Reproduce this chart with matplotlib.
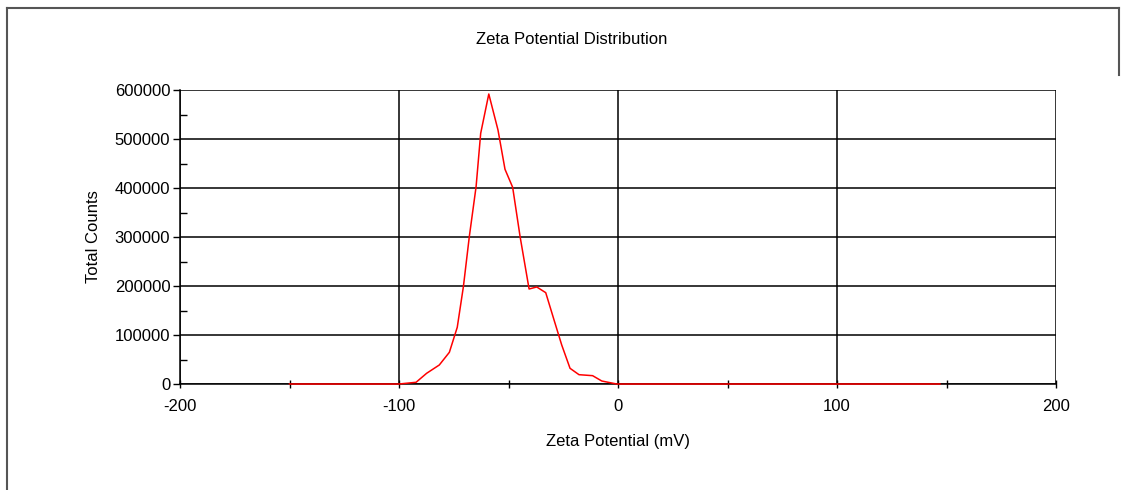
import matplotlib.pyplot as plt
from matplotlib.lines import Line2D
from matplotlib.ticker import MultipleLocator

plt.rcParams['font.family'] = ['Liberation Sans', 'DejaVu Sans']
plt.rcParams['axes.unicode_minus'] = False

# Zeta potential distribution (mV vs total counts)
zeta_mv = [-150, -100, -92.2, -87.4, -81.6, -77.0, -73.4, -70.6, -67.9, -64.8,
           -62.7, -59.0, -54.8, -51.6, -48.1, -44.7, -40.6, -37.1, -33.0,
           -29.2, -25.7, -21.9, -17.8, -11.6, -7.4, -0.6, 147]
total_counts = [0, 0, 3500, 21800, 38800, 64700, 115700, 198600, 300600, 402700,
                511600, 591800, 518400, 438200, 401400, 300600, 193900, 198000, 186400,
                130600, 79600, 32000, 19000, 17000, 6100, 0, 0]

W, H = 1123, 490
fig = plt.figure(figsize=(W / 100, H / 100), dpi=100)
ax = fig.add_axes([180 / W, 1 - 384 / H, (1056 - 180) / W, (384 - 90) / H])

ax.plot(zeta_mv, total_counts, color='red', linewidth=1.1, zorder=4, clip_on=False)

ax.set_xlim(-200, 200)
ax.set_ylim(0, 600000)
ax.xaxis.set_major_locator(MultipleLocator(100))
ax.xaxis.set_minor_locator(MultipleLocator(50))
ax.yaxis.set_major_locator(MultipleLocator(100000))
ax.yaxis.set_minor_locator(MultipleLocator(50000))

ax.grid(True, which='major', color='black', linewidth=1.1)
ax.set_axisbelow(True)
for side in ('top', 'right'):
    ax.spines[side].set_visible(False)
for side in ('left', 'bottom'):
    ax.spines[side].set_color('black')
    ax.spines[side].set_linewidth(1.1)

ax.tick_params(axis='y', which='major', direction='out', length=5, width=1, pad=2, labelsize=12)
ax.tick_params(axis='y', which='minor', direction='in', length=5, width=1)
ax.tick_params(axis='x', which='major', direction='inout', length=6, width=1, pad=8, labelsize=12)
ax.tick_params(axis='x', which='minor', direction='inout', length=6, width=1)

ax.set_xlabel('Zeta Potential (mV)', fontsize=12, labelpad=14)
ax.set_ylabel('Total Counts', fontsize=12, labelpad=10)
fig.text(572 / W, 1 - 40 / H, 'Zeta Potential Distribution', fontsize=12,
         ha='center', va='center')

# page frame
frame = dict(color='#555555', linewidth=1.5, transform=fig.transFigure)
fig.add_artist(Line2D([7 / W, 7 / W], [0, 1 - 8 / H], **frame))
fig.add_artist(Line2D([7 / W, 1119 / W], [1 - 8 / H, 1 - 8 / H], **frame))
fig.add_artist(Line2D([1119 / W, 1119 / W], [1 - 8 / H, 1 - 75 / H], **frame))

fig.savefig('out.png', dpi=100)
